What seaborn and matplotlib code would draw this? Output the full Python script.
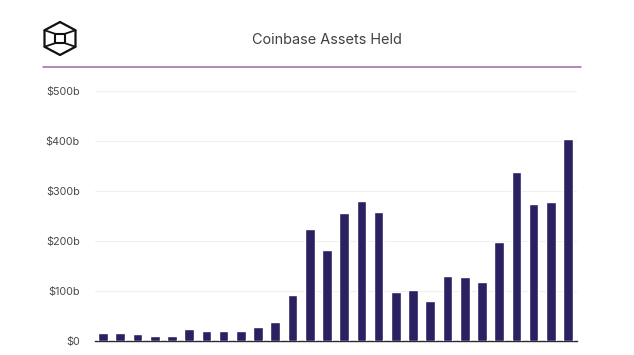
import matplotlib
matplotlib.use("Agg")
import matplotlib.pyplot as plt
import seaborn as sns
import pandas as pd

# values, $ billions
periods = [f"P{i}" for i in range(1, 29)]
assets = [15, 15, 13, 9, 9, 23, 19, 19, 19, 27, 37, 92, 224, 181,
          255, 280, 257, 97, 101, 79, 130, 128, 118, 198, 337, 273, 277, 404]
ticks = [0, 100, 200, 300, 400, 500]
tick_labels = ["$0", "$100b", "$200b", "$300b", "$400b", "$500b"]

W, H = 634, 355
BAR = "#2a2160"
TEXT = "#4a4a4a"

sns.set_theme(style="white")
plt.rcParams["font.family"] = ["Inter", "DejaVu Sans"]

df = pd.DataFrame({"period": periods, "assets": assets})

fig = plt.figure(figsize=(W / 100, H / 100), dpi=100, facecolor="white")
ax = fig.add_axes([95 / W, 1 - 341 / H, (577 - 95) / W, (341 - 90.5) / H])

sns.barplot(data=df, x="period", y="assets", color=BAR, saturation=1, width=0.56, ax=ax, zorder=3)

ax.set_xlim(-0.47, 27.52)
ax.set_ylim(0, 500)
ax.set_yticks(ticks)
ax.set_yticklabels(tick_labels, fontsize=7.8, color=TEXT)
ax.set_xticks([])
ax.set_xlabel("")
ax.set_ylabel("")
ax.tick_params(axis="y", length=0, pad=11)
ax.yaxis.grid(True, color="#f0f0f0", linewidth=0.8, zorder=0)
for s in ["top", "left", "right"]:
    ax.spines[s].set_visible(False)
ax.spines["bottom"].set_color("#2b2b33")
ax.spines["bottom"].set_linewidth(1.0)

# header: overlay in pixel coords
top = fig.add_axes([0, 0, 1, 1], facecolor="none")
top.set_xlim(0, W)
top.set_ylim(H, 0)
top.axis("off")
top.plot([43, 581], [66.5, 66.5], color="#9a6ba6", linewidth=1.1)
top.text(327, 40, "Coinbase Assets Held", ha="center", va="center", fontsize=10.4, color="#404040")

# logo, hexagonal cube
cx, cy, R, S = 60, 38.5, 16.5, 4.6
hx = [cx, cx + 15.5, cx + 15.5, cx, cx - 15.5, cx - 15.5, cx]
hy = [cy - R, cy - R / 2, cy + R / 2, cy + R, cy + R / 2, cy - R / 2, cy - R]
top.plot(hx, hy, color="#111111", linewidth=1.6, solid_joinstyle="round")
ix = [cx - S, cx + S, cx + S, cx - S, cx - S]
iy = [cy - S, cy - S, cy + S, cy + S, cy - S]
top.plot(ix, iy, color="#111111", linewidth=1.5)
for i in [1, 2, 4, 5]:
    top.plot([hx[i], cx + (S if hx[i] > cx else -S)],
             [hy[i], cy + (S if hy[i] > cy else -S)], color="#111111", linewidth=1.3)

fig.savefig("out.png", dpi=100)
